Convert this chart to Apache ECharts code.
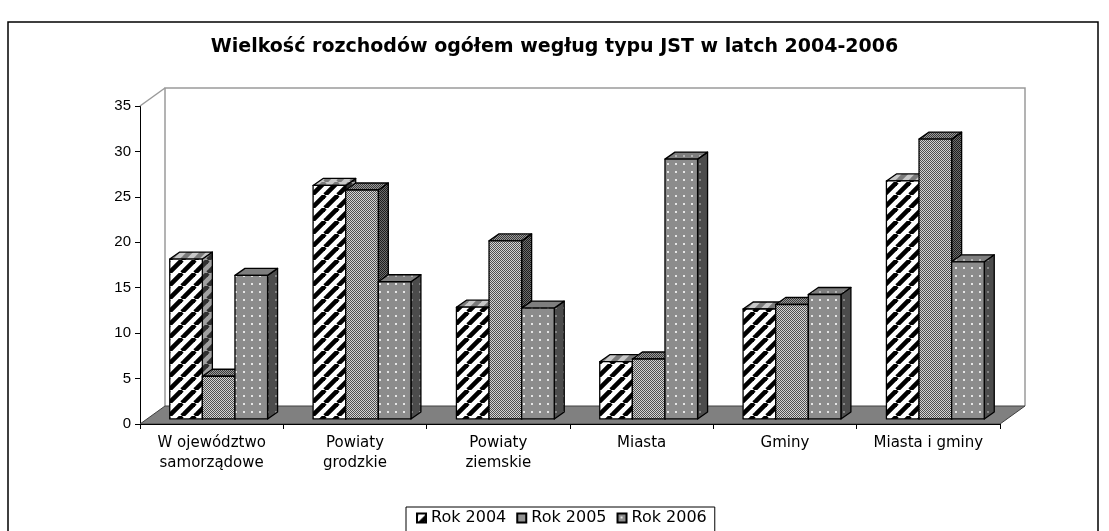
<!DOCTYPE html>
<html>
<head>
<meta charset="utf-8">
<script src="https://cdn.jsdelivr.net/npm/echarts@6/dist/echarts.min.js"></script>
<style>
    html, body { margin: 0; padding: 0; background: #fff; }
    #chart { width: 1109px; height: 531px; }
</style>
</head>
<body>
<div id="chart"></div>
<script>
// dane
var categories = ['W ojewództwo\nsamorządowe', 'Powiaty\ngrodzkie', 'Powiaty\nziemskie', 'Miasta', 'Gminy', 'Miasta i gminy'];
var years = ['Rok 2004', 'Rok 2005', 'Rok 2006'];
var rok2004 = [17.6, 25.7, 12.3, 6.3, 12.1, 26.2];
var rok2005 = [4.7, 25.2, 19.6, 6.6, 12.6, 30.8];
var rok2006 = [15.8, 15.1, 12.2, 28.6, 13.7, 17.3];
var yTicks = [0, 5, 10, 15, 20, 25, 30, 35];

// glebokosc "3D"
var FLOOR_DX = 25, FLOOR_DY = -18;   // podloga / sciana tylna
var BAR_DX = 10, BAR_DY = -7;        // glebokosc slupka
var BAR_POS = 0.28;                  // gdzie stoi slupek na podlodze
var BAR_W = 0.2275;                  // szerokosc slupka / szerokosc kategorii

// wzory wypelnienia
function makePattern(w, h, draw) {
    var c = document.createElement('canvas');
    c.width = w;
    c.height = h;
    draw(c.getContext('2d'), w, h);
    return { image: c, repeat: 'repeat' };
}
function stripes(bg, fg) {
    return makePattern(13, 13, function (ctx, s) {
        ctx.fillStyle = bg;
        ctx.fillRect(0, 0, s, s);
        ctx.strokeStyle = fg;
        ctx.lineWidth = 4.6;
        for (var k = -1; k <= 1; k++) {
            ctx.beginPath();
            ctx.moveTo(k * s, s);
            ctx.lineTo(k * s + s, 0);
            ctx.stroke();
        }
    });
}
function checker(light, dark) {
    return makePattern(2, 2, function (ctx) {
        ctx.fillStyle = light;
        ctx.fillRect(0, 0, 2, 2);
        ctx.fillStyle = dark;
        ctx.fillRect(0, 0, 1, 1);
        ctx.fillRect(1, 1, 1, 1);
    });
}
function dots(bg, fg) {
    return makePattern(8, 8, function (ctx) {
        ctx.fillStyle = bg;
        ctx.fillRect(0, 0, 8, 8);
        ctx.fillStyle = fg;
        ctx.fillRect(3, 3, 2, 2);
    });
}

var faces = [
    { front: stripes('#ffffff', '#000000'), top: stripes('#c8c8c8', '#7a7a7a'), side: stripes('#a0a0a0', '#303030') },
    { front: checker('#d4d4d4', '#505050'), top: checker('#9a9a9a', '#3a3a3a'), side: checker('#6e6e6e', '#1e1e1e') },
    { front: dots('#8c8c8c', '#e6e6e6'), top: dots('#7e7e7e', '#b4b4b4'), side: dots('#4c4c4c', '#858585') }
];

var myChart = echarts.init(document.getElementById('chart'));

// podloga + sciana tylna
function renderBox(params, api) {
    var cs = params.coordSys;
    var L = cs.x, T = cs.y, R = cs.x + cs.width, B = cs.y + cs.height;
    return {
        type: 'group',
        children: [
            {
                type: 'polyline',
                shape: { points: [[L + FLOOR_DX, B + FLOOR_DY], [L + FLOOR_DX, T + FLOOR_DY], [R + FLOOR_DX, T + FLOOR_DY], [R + FLOOR_DX, B + FLOOR_DY]] },
                style: { stroke: '#9a9a9a', lineWidth: 1.5, fill: null }
            },
            {
                type: 'line',
                shape: { x1: L, y1: T, x2: L + FLOOR_DX, y2: T + FLOOR_DY },
                style: { stroke: '#9a9a9a', lineWidth: 1.5 }
            },
            {
                type: 'polygon',
                shape: { points: [[L, B], [L + FLOOR_DX, B + FLOOR_DY], [R + FLOOR_DX, B + FLOOR_DY], [R, B]] },
                style: { fill: '#808080', stroke: '#404040', lineWidth: 1 }
            }
        ]
    };
}

function barRenderer(idx) {
    return function (params, api) {
        var ci = api.value(0), v = api.value(1);
        var base = api.coord([ci, 0]);
        var top = api.coord([ci, v]);
        var band = api.size([1, 0])[0];
        var w = band * BAR_W;
        var x0 = base[0] + FLOOR_DX * BAR_POS - 1.5 * w + idx * w;
        var x1 = x0 + w;
        var yb = base[1] + FLOOR_DY * BAR_POS;
        var yt = top[1] + FLOOR_DY * BAR_POS;
        var line = { stroke: '#000', lineWidth: 1.3, lineJoin: 'round' };
        return {
            type: 'group',
            children: [
                {
                    type: 'polygon',
                    shape: { points: [[x1, yt], [x1 + BAR_DX, yt + BAR_DY], [x1 + BAR_DX, yb + BAR_DY], [x1, yb]] },
                    style: Object.assign({ fill: faces[idx].side }, line)
                },
                {
                    type: 'polygon',
                    shape: { points: [[x0, yt], [x0 + BAR_DX, yt + BAR_DY], [x1 + BAR_DX, yt + BAR_DY], [x1, yt]] },
                    style: Object.assign({ fill: faces[idx].top }, line)
                },
                {
                    type: 'rect',
                    shape: { x: x0, y: yt, width: w, height: yb - yt },
                    style: Object.assign({ fill: faces[idx].front }, line)
                }
            ]
        };
    };
}

function barSeries(idx, values) {
    return {
        name: years[idx],
        type: 'custom',
        z: 2,
        itemStyle: { color: faces[idx].front, borderColor: '#000', borderWidth: 1 },
        renderItem: barRenderer(idx),
        data: values.map(function (v, i) { return [i, v]; })
    };
}

var option = {
    animation: false,
    backgroundColor: '#fff',
    title: {
        text: 'Wielkość rozchodów ogółem wegług typu JST w latch 2004-2006',
        left: 'center',
        top: 33,
        textStyle: { fontFamily: 'DejaVu Sans', fontWeight: 'bold', fontSize: 19, color: '#000' }
    },
    graphic: [{
        type: 'rect',
        z: -10,
        shape: { x: 8, y: 22, width: 1090, height: 530 },
        style: { fill: null, stroke: '#000', lineWidth: 1.5 }
    }],
    legend: {
        data: years,
        left: 406,
        top: 507,
        icon: 'rect',
        itemWidth: 9,
        itemHeight: 9,
        itemGap: 10,
        borderColor: '#000',
        borderWidth: 1,
        borderRadius: 0,
        padding: [3, 8, 10, 10],
        textStyle: { fontFamily: 'DejaVu Sans', fontSize: 16, color: '#000' }
    },
    grid: { left: 140, right: 109, top: 106, bottom: 107 },
    xAxis: {
        type: 'category',
        data: categories,
        z: 5,
        axisLine: { show: true, lineStyle: { color: '#000', width: 1 } },
        axisTick: { show: true, length: 5, lineStyle: { color: '#000' } },
        axisLabel: { interval: 0, color: '#000', fontFamily: 'DejaVu Sans', fontSize: 15, lineHeight: 20, margin: 9 },
        splitLine: { show: false }
    },
    yAxis: {
        type: 'value',
        min: yTicks[0],
        max: yTicks[yTicks.length - 1],
        interval: yTicks[1] - yTicks[0],
        axisLine: { show: true, lineStyle: { color: '#000', width: 1 } },
        axisTick: { show: true, length: 5, lineStyle: { color: '#000' } },
        axisLabel: { color: '#000', fontFamily: 'Liberation Sans', fontSize: 15, margin: 9 },
        splitLine: { show: false }
    },
    series: [
        { type: 'custom', silent: true, z: 1, renderItem: renderBox, data: [[0, 0]] },
        barSeries(0, rok2004),
        barSeries(1, rok2005),
        barSeries(2, rok2006)
    ]
};

myChart.setOption(option);

window.addEventListener('resize', function () {
    myChart.resize();
});
</script>
</body>
</html>
